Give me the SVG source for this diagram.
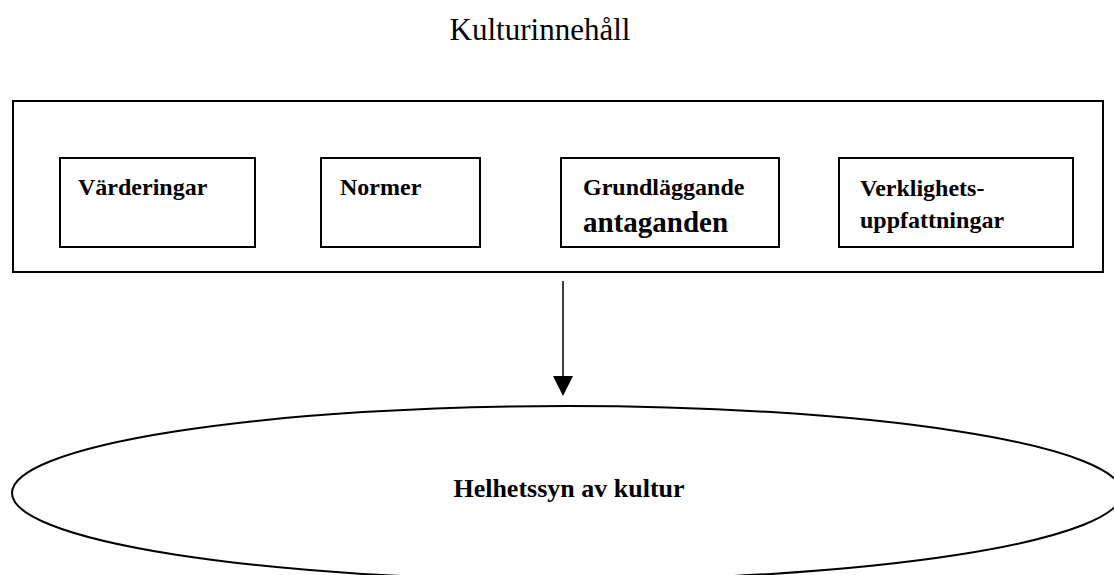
<svg xmlns="http://www.w3.org/2000/svg" width="1114" height="575" viewBox="0 0 1114 575">
<style>
.box{fill:#fff;stroke:#000;stroke-width:2}
.lbl{font-family:"Liberation Serif","Times New Roman",serif;font-weight:bold;font-size:24px;fill:#000}
.title{font-family:"Liberation Serif","Times New Roman",serif;font-size:31px;fill:#000}
</style>
<rect width="1114" height="575" fill="#fff"/>
<text class="title" x="540" y="40" text-anchor="middle">Kulturinnehåll</text>
<g id="kulturinnehall">
<rect class="box" x="13" y="101" width="1090" height="171"/>
</g>
<g id="varderingar">
<rect class="box" x="60" y="158" width="195" height="89"/>
<text class="lbl" x="78" y="195">Värderingar</text>
</g>
<g id="normer">
<rect class="box" x="321" y="158" width="159" height="89"/>
<text class="lbl" x="340" y="195">Normer</text>
</g>
<g id="grundlaggande">
<rect class="box" x="561" y="158" width="218" height="89"/>
<text class="lbl" x="583" y="195">Grundläggande</text>
<text class="lbl" x="583" y="232" style="font-size:29px">antaganden</text>
</g>
<g id="verklighet">
<rect class="box" x="839" y="158" width="234" height="89"/>
<text class="lbl" x="860" y="196">Verklighets-</text>
<text class="lbl" x="860" y="228">uppfattningar</text>
</g>
<g id="connectors">
<line x1="563" y1="281" x2="563" y2="378" stroke="#000" stroke-width="1.5"/>
<path d="M553,376 L573,376 L563,396 Z" fill="#000"/>
</g>
<g id="helhetssyn">
<ellipse cx="567" cy="493" rx="555" ry="87" fill="#fff" stroke="#000" stroke-width="2"/>
<text class="lbl" x="569" y="497" text-anchor="middle" style="font-size:26px">Helhetssyn av kultur</text>
</g>
</svg>
